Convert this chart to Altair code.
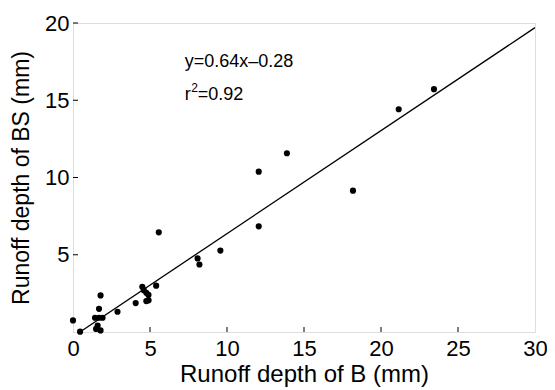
import altair as alt
import pandas as pd

runoff_b = [0.0, 0.46, 1.43, 1.69, 1.92, 1.69, 1.79, 1.6, 1.79, 1.5, 2.89, 4.07,
            4.5, 4.6, 4.76, 4.9, 4.76, 4.91, 5.4, 5.57, 8.09, 8.21, 9.57, 12.06,
            12.06, 13.89, 18.18, 21.15, 23.44]
runoff_bs = [0.75, 0.02, 0.92, 0.92, 0.92, 1.5, 2.37, 0.42, 0.1, 0.2, 1.31, 1.87,
             2.93, 2.71, 2.54, 2.4, 2.0, 2.05, 3.0, 6.45, 4.76, 4.37, 5.27, 10.38,
             6.84, 11.57, 9.15, 14.42, 15.72]

# Fitted line endpoints (as drawn)
fit_x = [0.45, 30.0]
fit_y = [0.0, 19.7]

x_ticks = [0, 5, 10, 15, 20, 25, 30]
y_ticks = [5, 10, 15, 20]
inner_x_ticks = [5, 10, 15, 20, 25]
inner_y_ticks = [5, 10, 15, 20]

equation = "y=0.64x\u20130.28"
r_base, r_sup, r_rest = "r", "2", "=0.92"
ann_x = 7.25
ann_y = [17.45, 15.35]

W, H = 462, 309
FONT = "Liberation Sans"

pts = pd.DataFrame({"b": runoff_b, "bs": runoff_bs})
fit = pd.DataFrame({"b": fit_x, "bs": fit_y})

xs = alt.Scale(domain=[0, 30], nice=False, zero=False)
ys = alt.Scale(domain=[0, 20], nice=False, zero=False)

x_enc = alt.X("b:Q", scale=xs, title="Runoff depth of B (mm)",
              axis=alt.Axis(values=x_ticks, ticks=False, grid=False, domain=False,
                            labelFontSize=22, titleFontSize=24, labelFont=FONT,
                            titleFont=FONT, labelColor="black", titleColor="black",
                            labelPadding=6, titlePadding=3, titleFontWeight="normal",
                            labelFlush=False))
y_enc = alt.Y("bs:Q", scale=ys, title="Runoff depth of BS (mm)",
              axis=alt.Axis(values=y_ticks, ticks=False, grid=False, domain=False,
                            labelFontSize=22, titleFontSize=23, labelFont=FONT,
                            titleFont=FONT, labelColor="black", titleColor="black",
                            labelPadding=4, titlePadding=11, titleFontWeight="normal",
                            labelFlush=False))

points = alt.Chart(pts).mark_circle(size=38, color="black", opacity=1).encode(x=x_enc, y=y_enc)

line = alt.Chart(fit).mark_line(color="black", strokeWidth=1.3, clip=True).encode(
    x=alt.X("b:Q", scale=xs), y=alt.Y("bs:Q", scale=ys))

xt = alt.Chart(pd.DataFrame({"t": inner_x_ticks})).mark_rule(color="black", strokeWidth=1).encode(
    x=alt.X("t:Q", scale=xs), y=alt.value(H), y2=alt.value(H - 5))
yt = alt.Chart(pd.DataFrame({"t": inner_y_ticks})).mark_rule(color="black", strokeWidth=1).encode(
    y=alt.Y("t:Q", scale=ys), x=alt.value(0), x2=alt.value(5))


def txt(s, yv, size, dx=0, dy=0):
    return alt.Chart(pd.DataFrame({"b": [ann_x], "bs": [yv], "txt": [s]})).mark_text(
        align="left", baseline="middle", fontSize=size, font=FONT, color="black",
        dx=dx, dy=dy).encode(
        x=alt.X("b:Q", scale=xs), y=alt.Y("bs:Q", scale=ys), text="txt:N")


ann1 = txt(equation, ann_y[0], 18)
ann2 = txt(r_base, ann_y[1], 18)
ann3 = txt(r_sup, ann_y[1], 12, dx=6.5, dy=-7)
ann4 = txt(r_rest, ann_y[1], 18, dx=13)

chart = alt.layer(line, points, xt, yt, ann1, ann2, ann3, ann4).properties(
    width=W, height=H,
    autosize=alt.AutoSizeParams(type="none"),
    padding={"left": 65, "top": 15, "right": 12, "bottom": 60},
).configure_view(stroke="black", strokeWidth=1.2).configure(background="white")

chart.save("out.html", embed_options={"renderer": "svg", "actions": False})
